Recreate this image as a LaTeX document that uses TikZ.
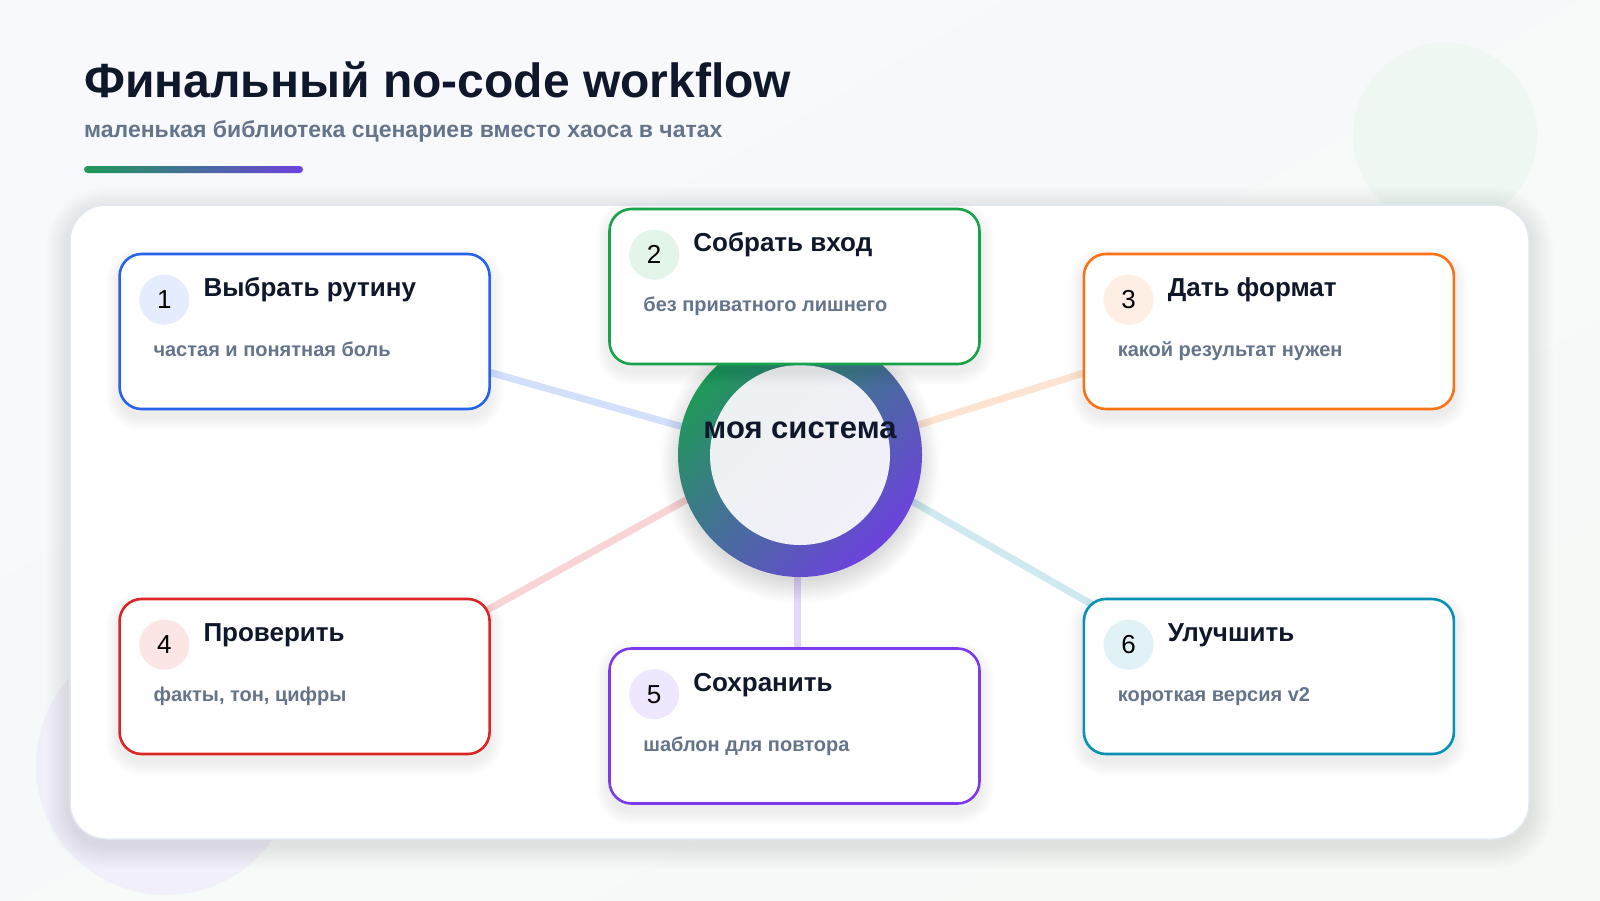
\documentclass[tikz,border=0pt]{standalone}
\usepackage{fontspec}
\setmainfont{Liberation Sans}
\usepackage{xcolor}
\usepackage{tikz}
\usetikzlibrary{calc, positioning}

\definecolor{ink}{HTML}{0F172A}
\definecolor{slate}{HTML}{64748B}
\definecolor{edge}{HTML}{E2E8F0}
\definecolor{bgA}{HTML}{F7F9FC}
\definecolor{bgB}{HTML}{F5FAF7}
\definecolor{blobG}{HTML}{EEF7F1}
\definecolor{blobV}{HTML}{F1EFF9}
\definecolor{gstart}{HTML}{1F9A58}
\definecolor{gend}{HTML}{6D42DD}
\definecolor{hubA}{HTML}{EDF1F2}
\definecolor{hubB}{HTML}{F2F0FA}
\definecolor{cblue}{HTML}{2563EB}
\definecolor{cgreen}{HTML}{16A34A}
\definecolor{corange}{HTML}{F97316}
\definecolor{cred}{HTML}{DC2626}
\definecolor{cviolet}{HTML}{7C3AED}
\definecolor{cteal}{HTML}{0891B2}

\tikzset{
	card/.style={draw=#1, line width=2.6pt, fill=white, rounded corners=22pt, minimum width=370pt, minimum height=155pt, inner sep=0pt},
	numdot/.style={circle, fill=#1!12, minimum size=50pt, inner sep=0pt, text=black, font=\fontsize{26}{26}\selectfont},
	cardtitle/.style={anchor=base west, inner sep=0pt, text=ink, font=\fontsize{26}{30}\selectfont\bfseries},
	cardsub/.style={anchor=base west, inner sep=0pt, text=slate, font=\fontsize{20}{24}\selectfont\bfseries},
	link/.style={draw=#1!20, line width=7pt},
	haze/.style={fill=black, opacity=#1},
	haze/.default=0.011,
}

\begin{document}
\begin{tikzpicture}[x=1pt, y=-1pt]
	\useasboundingbox (0,0) rectangle (1600,900);
	\shade[top color=bgA, bottom color=bgB, shading angle=30] (0,0) rectangle (1600,900);
	
	\fill[blobG] (1445,135) circle (92);
	\fill[blobV] (166,765) circle (130);
	
	\foreach \k in {1,...,12}
		\fill[haze=0.006, rounded corners=36pt+2*\k pt] (70-2*\k,211-2*\k) rectangle (1529+2*\k,845+2*\k);
	\draw[draw=edge, line width=1.5pt, fill=white, rounded corners=36pt] (70,205) rectangle (1529,839);
	
	\node[anchor=base west, inner sep=0pt, text=ink, font=\fontsize{48}{52}\selectfont\bfseries] (title) at (84,97) {Финальный no-code workflow};
	\node[anchor=base west, inner sep=0pt, text=slate, font=\fontsize{23}{27}\selectfont\bfseries] (subtitle) at (84,137) {маленькая библиотека сценариев вместо хаоса в чатах};
	\shade[left color=gstart, right color=gend, rounded corners=3.5pt] (84,166) rectangle (303,173);
	
	\coordinate (o) at (800,455);
	\foreach \n/\px/\py in {1/304.6/331.5, 2/794.5/286.5, 3/1268.9/331.5, 4/304.6/676.5, 5/794.5/726, 6/1268.9/676.5}
		\coordinate (p\n) at (\px,\py);
	
	\foreach \n/\col/\ax/\ay/\bx/\by in {1/cblue/0/5/0/-11.5, 2/cgreen/0/0/0/0, 3/corange/0/7/0/-16.5, 4/cred/0/-18/0/34.5, 5/cviolet/-3/0/2.5/0, 6/cteal/0/-18/0/29.5}
		\draw[link=\col] ($(o)+(\ax,\ay)$) -- ($(p\n)+(\bx,\by)$);
	
	\foreach \k in {1,...,12}
		\fill[haze] ($(o)+(0,8)$) circle (116+2*\k);
	\node[circle, minimum size=244pt, inner sep=0pt, top color=gstart, bottom color=gend, shading angle=45] (hub) at (o) {};
	\node[circle, minimum size=180pt, inner sep=0pt, top color=hubA, bottom color=hubB, shading angle=45] (core) at (hub) {};
	\node[anchor=base, inner sep=0pt, text=ink, font=\fontsize{31}{34}\selectfont\bfseries] (hubtext) at ($(hub)+(0,-17)$) {моя система};
	
	\foreach \n/\col/\head/\note in {
		1/cblue/{Выбрать рутину}/{частая и понятная боль},
		2/cgreen/{Собрать вход}/{без приватного лишнего},
		3/corange/{Дать формат}/{какой результат нужен},
		4/cred/{Проверить}/{факты, тон, цифры},
		5/cviolet/{Сохранить}/{шаблон для повтора},
		6/cteal/{Улучшить}/{короткая версия v2}}
	{
		\foreach \k in {1,...,9}
			\fill[haze=0.009, rounded corners=22pt+1.6*\k pt] ($(p\n)+(-185-1.6*\k,-70.5-1.6*\k)$) rectangle ($(p\n)+(185+1.6*\k,84.5+1.6*\k)$);
		\node[card=\col] (c\n) at (p\n) {};
		\node[numdot=\col] (n\n) at ($(c\n.north west)+(46,47)$) {\n};
		\node[cardtitle] (t\n) at ($(c\n.north west)+(85,44)$) {\head};
		\node[cardsub] (s\n) at ($(c\n.north west)+(35,104)$) {\note};
	}
\end{tikzpicture}
\end{document}
